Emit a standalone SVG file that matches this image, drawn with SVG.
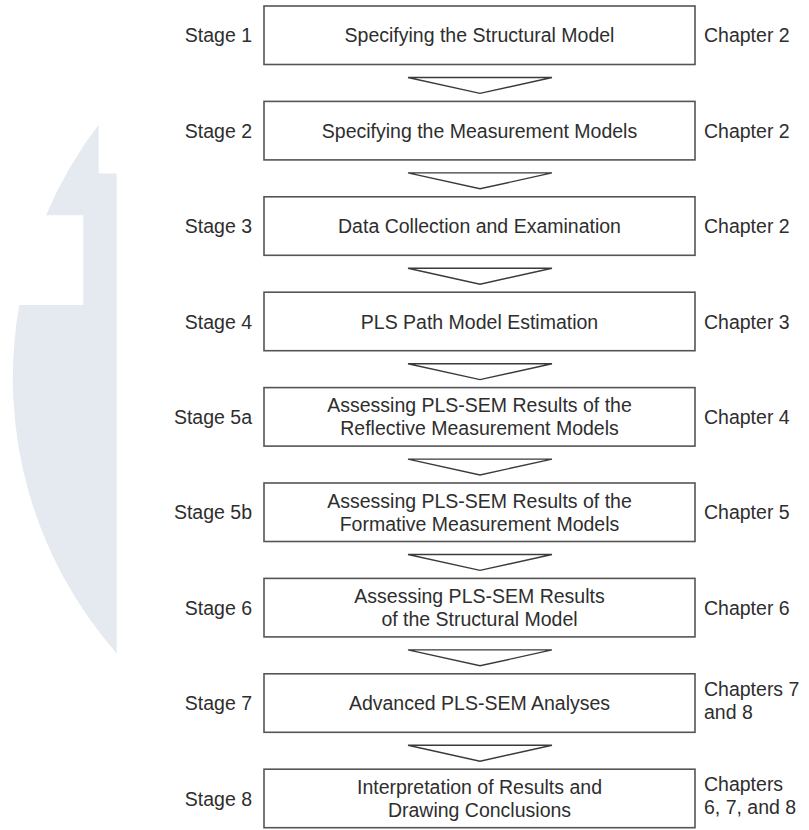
<svg xmlns="http://www.w3.org/2000/svg" width="809" height="830" viewBox="0 0 809 830">
<style>
text{font-family:"Liberation Sans",Arial,Helvetica,sans-serif;font-size:19.5px;fill:#2e2e2e}
.c{text-anchor:middle}
.s{text-anchor:end}
.box{fill:#fff;stroke:#555;stroke-width:1.6}
.arr{fill:#fff;stroke:#3a3a3a;stroke-width:1.4;stroke-linejoin:miter}
</style>
<rect width="809" height="830" fill="#fff"/>
<path id="watermark" fill="#e5eaf0" d="M98.7 124.5 A417 417 0 0 0 46 215.3 L83.3 215.3 L83.3 305 L19.3 305 A417 417 0 0 0 116.7 653.4 L116.7 173.4 L98.7 173.4 Z"/>
<g id="connectors">
<polygon class="arr" points="408,77.5 552,77.5 480,93.4"/>
<polygon class="arr" points="408,172.9 552,172.9 480,188.8"/>
<polygon class="arr" points="408,268.3 552,268.3 480,284.2"/>
<polygon class="arr" points="408,363.7 552,363.7 480,379.6"/>
<polygon class="arr" points="408,459.1 552,459.1 480,475"/>
<polygon class="arr" points="408,554.5 552,554.5 480,570.4"/>
<polygon class="arr" points="408,649.9 552,649.9 480,665.8"/>
<polygon class="arr" points="408,745.3 552,745.3 480,761.2"/>
</g>
<g id="stage1">
<text class="s" x="252" y="42.3">Stage 1</text>
<rect class="box" x="264" y="6" width="431" height="58.5"/>
<text class="c" x="479.5" y="42.3">Specifying the Structural Model</text>
<text x="704" y="42.3">Chapter 2</text>
</g>
<g id="stage2">
<text class="s" x="252" y="137.7">Stage 2</text>
<rect class="box" x="264" y="101.4" width="431" height="58.5"/>
<text class="c" x="479.5" y="137.7">Specifying the Measurement Models</text>
<text x="704" y="137.7">Chapter 2</text>
</g>
<g id="stage3">
<text class="s" x="252" y="233.1">Stage 3</text>
<rect class="box" x="264" y="196.8" width="431" height="58.5"/>
<text class="c" x="479.5" y="233.1">Data Collection and Examination</text>
<text x="704" y="233.1">Chapter 2</text>
</g>
<g id="stage4">
<text class="s" x="252" y="328.5">Stage 4</text>
<rect class="box" x="264" y="292.2" width="431" height="58.5"/>
<text class="c" x="479.5" y="328.5">PLS Path Model Estimation</text>
<text x="704" y="328.5">Chapter 3</text>
</g>
<g id="stage5a">
<text class="s" x="252" y="423.9">Stage 5a</text>
<rect class="box" x="264" y="387.6" width="431" height="58.5"/>
<text class="c" x="479.5" y="412.1">Assessing PLS-SEM Results of the</text>
<text class="c" x="479.5" y="435.1">Reflective Measurement Models</text>
<text x="704" y="423.9">Chapter 4</text>
</g>
<g id="stage5b">
<text class="s" x="252" y="519.3">Stage 5b</text>
<rect class="box" x="264" y="483" width="431" height="58.5"/>
<text class="c" x="479.5" y="507.5">Assessing PLS-SEM Results of the</text>
<text class="c" x="479.5" y="530.5">Formative Measurement Models</text>
<text x="704" y="519.3">Chapter 5</text>
</g>
<g id="stage6">
<text class="s" x="252" y="614.7">Stage 6</text>
<rect class="box" x="264" y="578.4" width="431" height="58.5"/>
<text class="c" x="479.5" y="602.9">Assessing PLS-SEM Results</text>
<text class="c" x="479.5" y="625.9">of the Structural Model</text>
<text x="704" y="614.7">Chapter 6</text>
</g>
<g id="stage7">
<text class="s" x="252" y="710.1">Stage 7</text>
<rect class="box" x="264" y="673.8" width="431" height="58.5"/>
<text class="c" x="479.5" y="710.1">Advanced PLS-SEM Analyses</text>
<text x="704" y="695.8">Chapters 7</text>
<text x="704" y="718.8">and 8</text>
</g>
<g id="stage8">
<text class="s" x="252" y="805.5">Stage 8</text>
<rect class="box" x="264" y="769.2" width="431" height="58.5"/>
<text class="c" x="479.5" y="793.7">Interpretation of Results and</text>
<text class="c" x="479.5" y="816.7">Drawing Conclusions</text>
<text x="704" y="791.2">Chapters</text>
<text x="704" y="814.2">6, 7, and 8</text>
</g>
</svg>
